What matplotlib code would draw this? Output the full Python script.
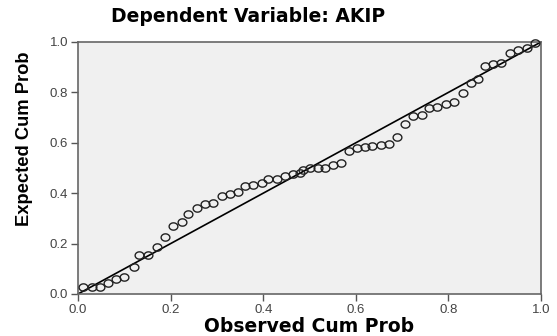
import numpy as np
import matplotlib
matplotlib.use('Agg')
import matplotlib.pyplot as plt
from matplotlib.path import Path

# ---- data ----
observed = [0.010, 0.030, 0.048, 0.065, 0.082, 0.100, 0.120, 0.132, 0.152, 0.170,
            0.188, 0.206, 0.224, 0.238, 0.256, 0.274, 0.292, 0.310, 0.328, 0.346,
            0.360, 0.379, 0.397, 0.411, 0.429, 0.447, 0.465, 0.480,
            0.487, 0.500, 0.519, 0.533, 0.551, 0.567, 0.586, 0.603, 0.620, 0.636,
            0.654, 0.672, 0.690, 0.706, 0.724, 0.742, 0.759, 0.776, 0.795, 0.812,
            0.831, 0.848, 0.865, 0.879, 0.896, 0.913, 0.932, 0.951, 0.969, 0.987]
expected = [0.027, 0.027, 0.029, 0.042, 0.058, 0.066, 0.108, 0.155, 0.155, 0.188,
            0.227, 0.270, 0.287, 0.316, 0.340, 0.357, 0.360, 0.389, 0.397, 0.406,
            0.429, 0.433, 0.440, 0.455, 0.455, 0.468, 0.476, 0.481,
            0.492, 0.499, 0.499, 0.499, 0.512, 0.521, 0.569, 0.578, 0.585, 0.587,
            0.591, 0.595, 0.624, 0.675, 0.706, 0.710, 0.740, 0.743, 0.754, 0.763,
            0.796, 0.836, 0.853, 0.905, 0.911, 0.918, 0.957, 0.968, 0.975, 0.995]
ticks = [0.0, 0.2, 0.4, 0.6, 0.8, 1.0]
tick_labels = ['0.0', '0.2', '0.4', '0.6', '0.8', '1.0']

plt.rcParams['font.family'] = ['Liberation Sans', 'DejaVu Sans']

# slightly wide open circle, like the stretched SPSS marker
theta = np.linspace(0, 2 * np.pi, 41)
oval = Path(np.column_stack([1.2 * np.cos(theta), np.sin(theta)]), closed=True)

fig = plt.figure(figsize=(5.57, 3.36), dpi=100)
ax = fig.add_axes([78 / 557, 42 / 336, 463 / 557, 252 / 336])
ax.set_facecolor('#f0f0f0')

ax.plot([0, 1], [0, 1], color='black', linewidth=1.2, zorder=2)
ax.plot(observed, expected, linestyle='none', marker=oval, markersize=6.3,
        markerfacecolor='none', markeredgecolor='#222222', markeredgewidth=1.0,
        zorder=3, clip_on=False)

ax.set_xlim(0, 1)
ax.set_ylim(0, 1)
ax.set_xticks(ticks)
ax.set_yticks(ticks)
ax.set_xticklabels(tick_labels)
ax.set_yticklabels(tick_labels)
ax.tick_params(direction='out', length=5, width=1, color='#555555',
               labelsize=9.5, labelcolor='#444444', pad=2)

for s in ax.spines.values():
    s.set_color('#666666')
    s.set_linewidth(1.2)

fig.text(248 / 557, 1 - 16 / 336, 'Dependent Variable: AKIP', ha='center', va='center',
         fontsize=13.5, fontweight='bold', family='DejaVu Sans')
fig.text(309 / 557, 1 - 326 / 336, 'Observed Cum Prob', ha='center', va='center',
         fontsize=13.5, fontweight='bold', family='DejaVu Sans')
ax.set_ylabel('Expected Cum Prob', fontsize=13.2, fontweight='bold')
ax.yaxis.set_label_coords(-0.098, 0.615)

fig.savefig('out.png', dpi=100)
